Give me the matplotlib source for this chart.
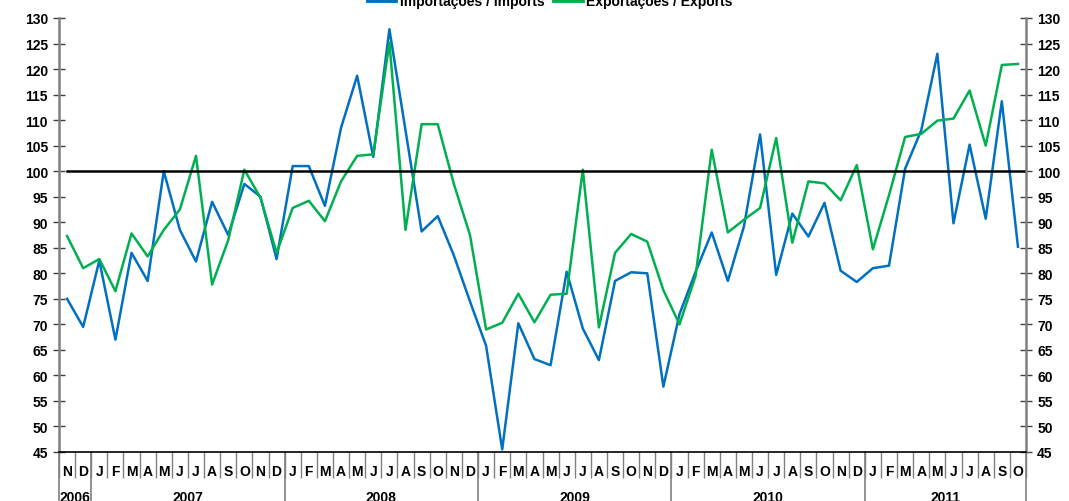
import matplotlib
matplotlib.use("Agg")
import matplotlib.pyplot as plt
import matplotlib.transforms as mtransforms
import numpy as np

plt.rcParams['font.family'] = ['Liberation Sans', 'DejaVu Sans']
plt.rcParams['font.weight'] = 'bold'
plt.rcParams['font.size'] = 10

# months Nov 2006 .. Oct 2011
months = ['N', 'D'] + ['J', 'F', 'M', 'A', 'M', 'J', 'J', 'A', 'S', 'O', 'N', 'D'] * 4 + \
         ['J', 'F', 'M', 'A', 'M', 'J', 'J', 'A', 'S', 'O']
years = ['2006', '2007', '2008', '2009', '2010', '2011']
year_counts = [2, 12, 12, 12, 12, 10]

imports = [75.0, 69.5,
           82.5, 67.0, 84.0, 78.5, 100.0, 88.5, 82.3, 94.0, 87.5, 97.5, 95.0, 82.8,
           101.0, 101.0, 93.2, 108.5, 118.7, 102.8, 127.8, 108.0, 88.2, 91.2, 83.5, 74.5,
           65.8, 45.5, 70.2, 63.2, 62.0, 80.3, 69.2, 63.0, 78.5, 80.2, 80.0, 57.8,
           72.0, 80.3, 88.0, 78.5, 89.2, 107.2, 79.7, 91.7, 87.2, 93.8, 80.5, 78.3,
           81.0, 81.5, 100.5, 108.0, 123.0, 89.8, 105.2, 90.7, 113.7, 85.2]
exports = [87.3, 81.0,
           82.8, 76.5, 87.8, 83.3, 88.5, 92.5, 103.0, 77.8, 86.5, 100.3, 94.8, 84.0,
           92.8, 94.2, 90.2, 98.0, 103.0, 103.3, 125.2, 88.5, 109.2, 109.2, 97.5, 87.5,
           69.0, 70.3, 76.0, 70.4, 75.8, 76.0, 100.3, 69.4, 84.0, 87.7, 86.2, 76.7,
           70.0, 79.5, 104.2, 88.0, 90.5, 92.8, 106.5, 86.0, 98.0, 97.6, 94.3, 101.2,
           84.7, 95.3, 106.7, 107.3, 109.9, 110.3, 115.8, 105.0, 120.8, 121.0]

blue = '#0070C0'
green = '#00B050'

fig = plt.figure(figsize=(10.69, 5.02), dpi=100)
ax = fig.add_axes([59 / 1069, 1 - 453 / 502, (1026 - 59) / 1069, (453 - 19) / 502])

x = np.arange(len(months))
ax.plot(x, imports, color=blue, lw=1.8, label='Importações / Imports')
ax.plot(x, exports, color=green, lw=1.8, label='Exportações / Exports')
ax.axhline(100, color='black', lw=1.8, xmin=0.008)

ax.set_xlim(-0.5, len(months) - 0.5)
ax.set_ylim(45, 130)
ax.set_yticks(np.arange(45, 131, 5))
ax.tick_params(axis='y', which='both', direction='inout', length=8, width=1, color='#404040',
               labelsize=10, pad=4, left=True, right=True, labelleft=True, labelright=True)

ax.spines['top'].set_visible(False)
for s in ['left', 'right']:
    ax.spines[s].set_color('#808080')
    ax.spines[s].set_linewidth(1.8)
ax.spines['bottom'].set_color('black')
ax.spines['bottom'].set_linewidth(1.2)

# month labels and separators
ax.set_xticks(x)
ax.set_xticklabels(months, fontsize=10, fontweight='bold')
ax.tick_params(axis='x', which='major', length=0, pad=9)
ax.set_xticks(np.arange(-0.5, len(months), 1.0), minor=True)
ax.tick_params(axis='x', which='minor', length=19, width=1, color='#808080')

# year separators and labels
trans = mtransforms.blended_transform_factory(ax.transData, ax.transAxes)
bounds = np.concatenate([[0], np.cumsum(year_counts)]) - 0.5
for b in bounds:
    ax.plot([b, b], [0, -0.13], color='#808080', lw=1.2, transform=trans, clip_on=False)
for i, yr in enumerate(years):
    cx = (bounds[i] + bounds[i + 1]) / 2
    ax.text(cx, -38 / 434, yr, transform=trans, ha='center', va='top', fontsize=10, fontweight='bold')

leg = fig.legend(loc='center', bbox_to_anchor=(0.5145, 1.0 - 2 / 502), ncol=2, frameon=False,
                 handlelength=2.0, handletextpad=0.3, columnspacing=0.7, fontsize=10)
for ln in leg.get_lines():
    ln.set_linewidth(3.5)

fig.savefig('out.png', dpi=100)
